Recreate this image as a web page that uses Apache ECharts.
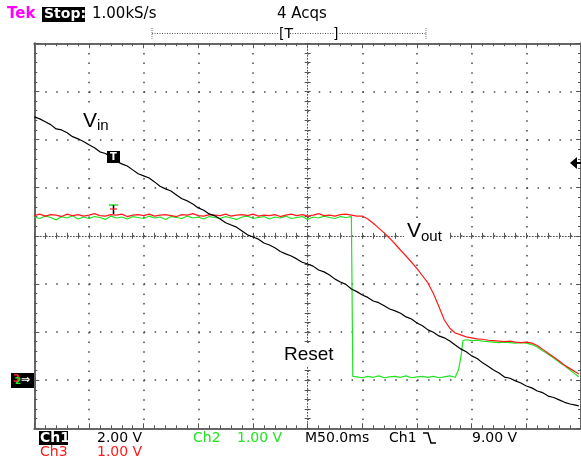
<!DOCTYPE html>
<html><head><meta charset="utf-8">
<script src="https://cdn.jsdelivr.net/npm/echarts@6/dist/echarts.min.js"></script>
<style>html,body{margin:0;padding:0;background:#fff}#c{width:581px;height:469px}</style>
</head><body><div id="c"></div>
<script>
// Ch1 (Vin), 2.00 V/div, time in ms (50 ms/div)
const ch1Time = [0,5,10,15,20,25,30,35,40,45,50,55,60,65,70,75,80,85,90,95,100,105,110,115,120,125,130,135,140,145,150,155,160,165,170,175,180,185,190,195,200,205,210,215,220,225,230,235,240,245,250,255,260,265,270,275,280,285,290,295,300,305,310,315,320,325,330,335,340,345,350,355,360,365,370,375,380,385,390,395,400,405,410,415,420,425,430,435,440,445,450,455,460,465,470,475,480,485,490,495,498];
const ch1Volts = [10.94,10.86,10.74,10.62,10.44,10.40,10.28,10.12,10.03,9.92,9.78,9.66,9.49,9.42,9.28,9.10,8.99,8.90,8.74,8.58,8.49,8.40,8.24,8.06,7.95,7.86,7.70,7.54,7.45,7.32,7.16,7.06,6.91,6.83,6.70,6.54,6.45,6.36,6.20,6.04,5.95,5.86,5.70,5.62,5.50,5.35,5.25,5.16,5.04,4.90,4.83,4.74,4.58,4.50,4.37,4.20,4.08,3.98,3.79,3.68,3.54,3.44,3.29,3.22,3.09,2.96,2.88,2.78,2.63,2.54,2.38,2.26,2.09,1.99,1.84,1.76,1.63,1.46,1.30,1.18,1.01,0.90,0.72,0.58,0.42,0.30,0.13,0.08,-0.03,-0.12,-0.24,-0.32,-0.45,-0.52,-0.66,-0.72,-0.82,-0.92,-0.99,-1.04,-1.07];

// Ch2 (Reset), 1.00 V/div
const ch2Time = [0,5,10,15,20,25,30,35,40,45,50,55,60,65,70,75,80,85,90,95,100,105,110,115,120,125,130,135,140,145,150,155,160,165,170,175,180,185,190,195,200,205,210,215,220,225,230,235,240,245,250,255,260,265,270,275,280,285,290,291,291.3,295,300,305,310,315,320,325,330,335,340,345,350,355,360,365,370,375,380,385,386.5,388,389.5,390.7,392,395,400,405,410,415,420,425,430,435,440,445,450,455,460,465,470,475,480,485,490,495,498];
const ch2Volts = [3.39,3.36,3.41,3.38,3.33,3.40,3.37,3.42,3.35,3.39,3.36,3.40,3.38,3.34,3.41,3.37,3.39,3.35,3.40,3.38,3.36,3.41,3.37,3.39,3.34,3.40,3.38,3.36,3.41,3.37,3.39,3.35,3.40,3.38,3.36,3.40,3.37,3.34,3.39,3.41,3.36,3.38,3.40,3.35,3.39,3.37,3.41,3.36,3.38,3.40,3.34,3.39,3.37,3.41,3.38,3.36,3.40,3.38,3.40,3.40,0.08,0.07,0.05,0.08,0.06,0.09,0.05,0.07,0.08,0.06,0.09,0.05,0.07,0.08,0.06,0.08,0.05,0.07,0.09,0.06,0.10,0.22,0.40,0.57,0.82,0.84,0.82,0.83,0.81,0.80,0.79,0.78,0.79,0.78,0.77,0.78,0.77,0.74,0.69,0.61,0.54,0.46,0.38,0.30,0.21,0.12,0.07];

// Ch3 (Vout), 1.00 V/div
const ch3Time = [0,5,10,15,20,25,30,35,40,45,50,55,60,65,70,75,80,85,90,95,100,105,110,115,120,125,130,135,140,145,150,155,160,165,170,175,180,185,190,195,200,205,210,215,220,225,230,235,240,245,250,255,260,265,270,275,280,285,290,295,300,305,310,315,320,325,330,335,340,345,350,355,360,365,370,375,380,385,390,395,400,405,410,415,420,425,430,435,440,445,450,455,460,465,470,475,480,485,490,495,498];
const ch3Volts = [3.42,3.45,3.41,3.44,3.43,3.40,3.45,3.42,3.44,3.41,3.43,3.46,3.42,3.41,3.44,3.43,3.45,3.40,3.43,3.44,3.42,3.45,3.41,3.43,3.44,3.42,3.40,3.44,3.43,3.46,3.42,3.41,3.44,3.43,3.42,3.45,3.41,3.43,3.44,3.42,3.45,3.41,3.43,3.42,3.44,3.40,3.43,3.45,3.42,3.44,3.41,3.43,3.46,3.42,3.43,3.41,3.44,3.45,3.43,3.41,3.41,3.35,3.26,3.16,3.06,2.95,2.83,2.70,2.58,2.45,2.32,2.17,2.02,1.80,1.53,1.25,1.08,0.98,0.94,0.90,0.88,0.86,0.85,0.83,0.82,0.81,0.80,0.81,0.79,0.78,0.79,0.77,0.72,0.64,0.56,0.48,0.40,0.31,0.24,0.17,0.13];

const pairs = (t, v) => t.map((x, i) => [x, v[i]]);
const GREEN = '#22e322', RED = '#ff1a1a', GRID = '#555', BORDER = '#666';
const FONT = '"DejaVu Sans", sans-serif';

function ax(extra) {
  return Object.assign({
    type: 'value', gridIndex: 0,
    axisLabel: { show: false }, splitLine: { show: false },
    axisLine: { show: true, onZero: false, lineStyle: { color: BORDER, width: 2 } },
    axisTick: { show: true, inside: true, length: 5, lineStyle: { color: GRID } },
    minorTick: { show: true, splitNumber: 5, length: 3, lineStyle: { color: GRID } }
  }, extra);
}
const centerLine = (idx) => ({ show: true, onZero: true, onZeroAxisIndex: idx, lineStyle: { color: GRID, width: 1, type: [1, 2] } });
const noLine = (idx) => ({ show: false, onZero: true, onZeroAxisIndex: idx });
const tick = (inside) => ({ show: true, inside: inside, length: 3, lineStyle: { color: GRID } });
const minorC = { show: true, splitNumber: 5, length: 3, lineStyle: { color: GRID } };

const chart = echarts.init(document.getElementById('c'), null, { renderer: 'canvas' });
chart.setOption({
  animation: false,
  backgroundColor: '#fff',
  grid: { left: 34.3, top: 43.3, width: 547, height: 385 },
  xAxis: [
    ax({ position: 'bottom', min: 0, max: 500, interval: 50, splitLine: { show: true, lineStyle: { color: '#444', width: 1.5, type: [1.5, 8.12] } } }),
    ax({ position: 'top', min: 0, max: 500, interval: 50 }),
    ax({ position: 'bottom', min: -5, max: 5, interval: 1, axisLine: centerLine(2), axisTick: tick(true), minorTick: minorC }),
    ax({ position: 'bottom', min: -5, max: 5, interval: 1, axisLine: noLine(2), axisTick: tick(false), minorTick: minorC })
  ],
  yAxis: [
    ax({ position: 'left', min: -2, max: 14, interval: 2, splitLine: { show: true, lineStyle: { color: '#444', width: 1.5, type: [1.5, 9.44] } } }),
    ax({ position: 'right', min: -1, max: 7, interval: 1 }),
    ax({ position: 'left', min: -4, max: 4, interval: 1, axisLine: centerLine(2), axisTick: tick(true), minorTick: minorC }),
    ax({ position: 'left', min: -4, max: 4, interval: 1, axisLine: noLine(2), axisTick: tick(false), minorTick: minorC })
  ],
  series: [
    { name: 'Ch2', type: 'line', xAxisIndex: 0, yAxisIndex: 1, data: pairs(ch2Time, ch2Volts), showSymbol: false, symbol: 'none', lineStyle: { color: GREEN, width: 1.2 }, z: 3 },
    { name: 'Ch3', type: 'line', xAxisIndex: 0, yAxisIndex: 1, data: pairs(ch3Time, ch3Volts), showSymbol: false, symbol: 'none', lineStyle: { color: RED, width: 1.2 }, z: 4 },
    { name: 'Ch1', type: 'line', xAxisIndex: 0, yAxisIndex: 0, data: pairs(ch1Time, ch1Volts), showSymbol: false, symbol: 'none', lineStyle: { color: '#000', width: 1.2 }, z: 5 }
  ],
  graphic: [
    // top status line
    { type: 'text', x: 7, y: 14, style: { text: 'Tek', fill: '#ff00ff', font: 'bold 15px ' + FONT, verticalAlign: 'middle' } },
    { type: 'rect', shape: { x: 42, y: 7, width: 43, height: 15 }, style: { fill: '#000' } },
    { type: 'text', x: 44, y: 14.5, style: { text: 'Stop:', fill: '#fff', font: 'bold 14px ' + FONT, verticalAlign: 'middle' } },
    { type: 'text', x: 92, y: 14, style: { text: '1.00kS/s', fill: '#000', font: '15px ' + FONT, verticalAlign: 'middle' } },
    { type: 'text', x: 277, y: 14, style: { text: '4 Acqs', fill: '#000', font: '15px ' + FONT, verticalAlign: 'middle' } },
    { type: 'line', shape: { x1: 152, y1: 33.5, x2: 426, y2: 33.5 }, style: { stroke: '#555', lineWidth: 1, lineDash: [1, 1.5] } },
    { type: 'line', shape: { x1: 152, y1: 28, x2: 152, y2: 39 }, style: { stroke: '#777', lineWidth: 1, lineDash: [1, 1] } },
    { type: 'line', shape: { x1: 426, y1: 28, x2: 426, y2: 39 }, style: { stroke: '#777', lineWidth: 1, lineDash: [1, 1] } },
    { type: 'rect', shape: { x: 278, y: 27, width: 60, height: 13 }, style: { fill: '#fff' } },
    { type: 'line', shape: { x1: 290, y1: 33.5, x2: 334, y2: 33.5 }, style: { stroke: '#555', lineWidth: 1, lineDash: [1, 1.5] } },
    { type: 'text', x: 279, y: 34, style: { text: '[T', fill: '#000', font: '14px ' + FONT, verticalAlign: 'middle' } },
    { type: 'text', x: 333, y: 34, style: { text: ']', fill: '#000', font: '14px ' + FONT, verticalAlign: 'middle' } },
    // bottom status lines
    { type: 'rect', shape: { x: 39, y: 431, width: 29, height: 14 }, style: { fill: '#000' } },
    { type: 'text', x: 40, y: 438, style: { text: 'Ch1', fill: '#fff', font: 'bold 14px ' + FONT, verticalAlign: 'middle' } },
    { type: 'text', x: 97, y: 438, style: { text: '2.00 V', fill: '#000', font: '14px ' + FONT, verticalAlign: 'middle' } },
    { type: 'text', x: 193, y: 438, style: { text: 'Ch2', fill: GREEN, font: '14px ' + FONT, verticalAlign: 'middle' } },
    { type: 'text', x: 237, y: 438, style: { text: '1.00 V', fill: GREEN, font: '14px ' + FONT, verticalAlign: 'middle' } },
    { type: 'text', x: 305, y: 438, style: { text: 'M50.0ms', fill: '#000', font: '14px ' + FONT, verticalAlign: 'middle' } },
    { type: 'text', x: 389, y: 438, style: { text: 'Ch1', fill: '#000', font: '14px ' + FONT, verticalAlign: 'middle' } },
    { type: 'polyline', shape: { points: [[423, 433], [428, 433], [431, 443], [436, 443]] }, style: { stroke: '#000', lineWidth: 1.5, fill: null } },
    { type: 'text', x: 472, y: 438, style: { text: '9.00 V', fill: '#000', font: '14px ' + FONT, verticalAlign: 'middle' } },
    { type: 'text', x: 40, y: 452, style: { text: 'Ch3', fill: RED, font: '14px ' + FONT, verticalAlign: 'middle' } },
    { type: 'text', x: 97, y: 452, style: { text: '1.00 V', fill: RED, font: '14px ' + FONT, verticalAlign: 'middle' } },
    // annotations
    { type: 'rect', shape: { x: 80, y: 108, width: 36, height: 27 }, style: { fill: '#fff' }, z: 10 },
    { type: 'text', x: 83, y: 121, style: { text: 'V', fill: '#000', font: '21px "Liberation Sans", sans-serif', verticalAlign: 'middle' }, z: 11 },
    { type: 'text', x: 97, y: 126, style: { text: 'in', fill: '#000', font: '15px "Liberation Sans", sans-serif', verticalAlign: 'middle' }, z: 11 },
    { type: 'rect', shape: { x: 404, y: 220, width: 46, height: 27 }, style: { fill: '#fff' }, z: 10 },
    { type: 'text', x: 407, y: 231, style: { text: 'V', fill: '#000', font: '21px "Liberation Sans", sans-serif', verticalAlign: 'middle' }, z: 11 },
    { type: 'text', x: 421, y: 237, style: { text: 'out', fill: '#000', font: '15px "Liberation Sans", sans-serif', verticalAlign: 'middle' }, z: 11 },
    { type: 'rect', shape: { x: 281, y: 343, width: 62, height: 24 }, style: { fill: '#fff' }, z: 10 },
    { type: 'text', x: 284, y: 355, style: { text: 'Reset', fill: '#000', font: '19px "Liberation Sans", sans-serif', verticalAlign: 'middle' }, z: 11 },
    // markers
    { type: 'rect', shape: { x: 107, y: 151, width: 13, height: 12 }, style: { fill: '#000' }, z: 12 },
    { type: 'text', x: 113.5, y: 157.5, style: { text: 'T', fill: '#fff', font: 'bold 10px ' + FONT, align: 'center', verticalAlign: 'middle' }, z: 13 },
    { type: 'line', shape: { x1: 109, y1: 205, x2: 118, y2: 205 }, style: { stroke: GREEN, lineWidth: 1.5 }, z: 12 },
    { type: 'line', shape: { x1: 113.5, y1: 205, x2: 113.5, y2: 214 }, style: { stroke: '#000', lineWidth: 1.5 }, z: 12 },
    { type: 'line', shape: { x1: 110, y1: 209, x2: 117, y2: 209 }, style: { stroke: RED, lineWidth: 1.2 }, z: 12 },
    { type: 'polygon', shape: { points: [[570, 163], [577, 157], [577, 169]] }, style: { fill: '#000' }, z: 12 },
    { type: 'line', shape: { x1: 576, y1: 163, x2: 581, y2: 163 }, style: { stroke: '#000', lineWidth: 2 }, z: 12 },
    { type: 'rect', shape: { x: 11, y: 373, width: 23, height: 15 }, style: { fill: '#000' }, z: 12 },
    { type: 'text', x: 13, y: 379, style: { text: '3', fill: RED, font: 'bold 10px ' + FONT, verticalAlign: 'middle' }, z: 13 },
    { type: 'text', x: 15, y: 382, style: { text: '2', fill: GREEN, font: 'bold 9px ' + FONT, verticalAlign: 'middle' }, z: 13 },
    { type: 'text', x: 21, y: 380.5, style: { text: '\u21D2', fill: '#fff', font: 'bold 11px ' + FONT, verticalAlign: 'middle' }, z: 13 }
  ]
});
</script>
</body></html>
